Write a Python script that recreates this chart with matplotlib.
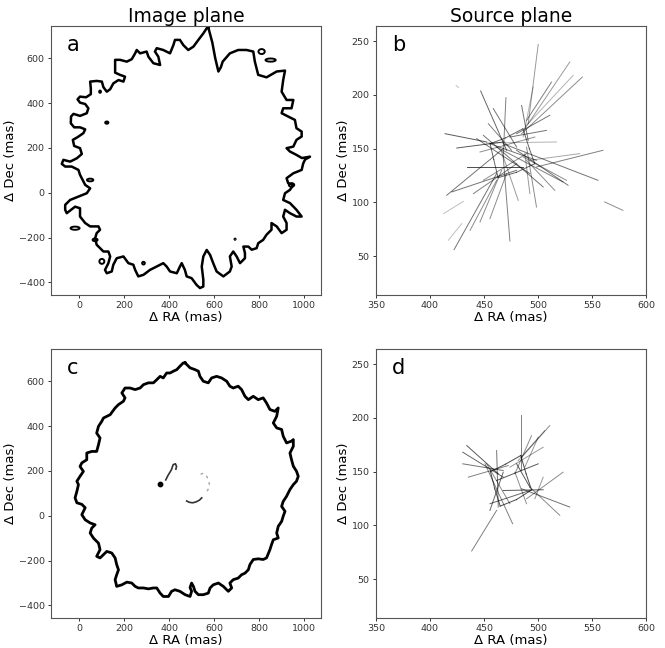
import matplotlib
matplotlib.use("Agg")
import matplotlib.pyplot as plt
from matplotlib.patches import Ellipse

# ---------------- data ----------------
ring_a_x = [574, 580, 592, 605, 619, 630, 638, 670, 707, 744, 774, 781, 796, 833, 878, 915, 907, 900, 922, 952,
            944, 907, 900, 929, 959, 966, 989, 989, 966, 952, 922, 937, 966, 990, 1026, 1004, 996, 989, 952, 922,
            929, 952, 937, 915, 907, 937, 966, 989, 966, 937, 915, 907, 922, 922, 900, 878, 855, 855, 833, 818,
            796, 789, 767, 752, 730, 737, 737, 715, 700, 685, 670, 678, 670, 641, 611, 596, 582, 567, 552, 545,
            552, 552, 537, 522, 500, 478, 470, 456, 448, 434, 404, 389, 374, 345, 315, 286, 263, 249, 241, 219,
            197, 167, 152, 145, 123, 115, 130, 138, 130, 108, 93, 78, 71, 78, 93, 86, 49, 27, 4, 4,
            -18, -55, -62, -62, -40, -3, 34, 49, 27, 4, -3, -33, -62, -77, -70, -40, -10, 12, 4, -22,
            -28, -7, 19, 27, 4, -22, -37, -36, -25, 4, 34, 41, 27, 4, -7, 4, 31, 52, 52, 49,
            78, 101, 108, 123, 138, 152, 175, 197, 204, 182, 160, 160, 160, 182, 212, 234, 249, 256, 271, 300,
            308, 330, 360, 352, 337, 345, 374, 404, 419, 426, 448, 463, 485, 508, 530, 552, 567, 574]
ring_a_y = [738, 715, 670, 600, 541, 560, 585, 622, 637, 637, 630, 585, 526, 515, 541, 545, 503, 451, 414, 414,
            377, 377, 355, 340, 325, 288, 273, 251, 236, 206, 199, 184, 169, 155, 161, 148, 131, 102, 87, 65,
            43, 35, 13, -2, -32, -46, -76, -106, -106, -91, -76, -106, -135, -165, -180, -150, -135, -165, -187, -210,
            -225, -247, -254, -240, -240, -269, -292, -314, -284, -262, -284, -329, -351, -373, -351, -314, -277, -255, -284, -329,
            -388, -418, -425, -411, -381, -373, -344, -314, -329, -359, -351, -329, -314, -329, -344, -366, -373, -344, -321, -314,
            -284, -292, -321, -351, -359, -344, -314, -284, -262, -262, -247, -232, -203, -180, -165, -150, -150, -135, -106, -69,
            -62, -91, -76, -54, -32, -17, -2, 20, 35, 80, 102, 117, 117, 129, 147, 139, 154, 173, 199, 209,
            236, 248, 266, 283, 292, 292, 310, 340, 352, 343, 355, 377, 396, 402, 417, 429, 426, 440, 466, 496,
            499, 496, 471, 451, 462, 488, 503, 496, 518, 526, 536, 578, 593, 593, 585, 596, 622, 637, 622, 630,
            607, 578, 570, 607, 630, 645, 637, 622, 659, 682, 682, 659, 637, 652, 682, 711, 734, 738]

# small closed islands of panel a: centre x, centre y, width, height
isl_a_x = [811, 851, 93, 123, 71, 101, 286, 693, 49, -18, 944]
isl_a_y = [630, 592, 451, 313, -210, -306, -314, -207, 57, -158, 35]
isl_a_w = [28, 45, 8, 14, 22, 22, 12, 5, 28, 40, 24]
isl_a_h = [22, 14, 10, 10, 12, 22, 12, 5, 12, 14, 16]

ring_c_x = [471, 493, 515, 530, 537, 552, 574, 589, 611, 633, 656, 670, 685, 707, 722, 737, 752, 774, 796, 818,
            833, 848, 870, 885, 878, 863, 878, 900, 907, 922, 944, 952, 952, 937, 944, 952, 966, 974, 966, 952,
            937, 922, 907, 900, 915, 907, 900, 885, 878, 885, 863, 855, 848, 833, 818, 796, 774, 759, 752, 737,
            722, 707, 685, 670, 678, 663, 641, 619, 596, 582, 574, 552, 530, 515, 508, 500, 493, 500, 493, 471,
            448, 426, 411, 397, 374, 360, 345, 330, 308, 286, 263, 249, 234, 212, 190, 167, 160, 167, 175, 167,
            160, 145, 123, 93, 78, 93, 86, 64, 49, 56, 71, 49, 27, 12, 27, 12, -10, -18, -10, -3,
            -10, 4, 19, 4, 12, 34, 34, 56, 78, 86, 93, 78, 86, 101, 108, 138, 160, 175, 197, 204,
            190, 204, 226, 249, 271, 286, 308, 330, 345, 360, 374, 389, 404, 419, 434, 448, 463, 471]
ring_c_y = [682, 660, 652, 645, 622, 600, 593, 615, 622, 615, 600, 578, 570, 578, 563, 533, 518, 533, 518, 526,
            503, 474, 466, 481, 444, 414, 392, 385, 355, 325, 333, 340, 310, 280, 250, 221, 199, 176, 154, 139,
            117, 87, 64, 42, 20, -2, -25, -47, -77, -99, -107, -129, -151, -188, -195, -192, -195, -218, -241, -256,
            -263, -278, -285, -300, -322, -337, -315, -300, -308, -322, -345, -352, -352, -337, -315, -300, -320, -337, -360, -352,
            -337, -330, -337, -360, -360, -345, -322, -322, -326, -322, -322, -315, -300, -296, -308, -315, -285, -263, -241, -218,
            -188, -166, -159, -188, -181, -151, -122, -100, -77, -55, -40, -32, -18, 5, 36, 51, 58, 80, 109, 139,
            154, 176, 198, 220, 236, 250, 280, 287, 287, 317, 347, 369, 399, 422, 436, 451, 481, 496, 511, 526,
            548, 570, 570, 563, 570, 585, 593, 593, 607, 622, 615, 637, 637, 645, 652, 667, 682, 682]

# inner fragments of panel c
frag1_x = [385, 395, 410, 418, 428, 433, 430]
frag1_y = [160, 180, 205, 228, 232, 220, 208]
frag2_x = [478, 490, 505, 520, 535, 545]
frag2_y = [66, 60, 58, 62, 70, 80]
frag3_x = [540, 552, 565, 575, 580, 572, 560]
frag3_y = [185, 190, 180, 160, 135, 115, 100]
dot_c_x = [360]
dot_c_y = [143]

# source-plane segments, panel b
b_x0 = [500.2, 529.4, 532.5, 541.1, 512.5, 510.9, 507.8, 446.9, 470.3, 458.6, 454.0, 484.8, 414.0, 424.8, 446.3,
        452.5, 434.0, 415.5, 420.2, 412.5, 417.0, 422.3, 437.1, 446.3, 455.5, 474.0, 481.7, 498.6, 492.5, 555.5,
        560.2, 538.6, 527.8, 515.5, 526.3, 561.7, 424.2, 498.6, 495.5, 443.2, 449.4, 461.7, 440.2, 449.4,
        455.6, 470.0, 486.0, 492.0, 497.0, 480.0, 463.0, 459.0]
b_y0 = [246.9, 230.5, 218.1, 216.6, 211.9, 181.0, 167.0, 203.6, 197.4, 187.2, 173.2, 190.2, 163.9, 150.6, 146.9,
        155.3, 133.0, 106.7, 109.8, 89.6, 64.9, 56.2, 74.1, 81.9, 85.0, 64.2, 102.0, 95.8, 108.2, 120.6,
        148.5, 145.4, 116.0, 111.3, 120.6, 100.5, 208.8, 139.2, 207.3, 159.3, 162.4, 151.5, 108.2, 120.6,
        154.6, 160.0, 168.5, 150.0, 136.0, 128.0, 123.0, 140.0]
b_x1 = [490.9, 487.8, 489.4, 484.8, 489.4, 480.2, 474.0, 470.9, 467.8, 480.2, 475.5, 490.9, 452.5, 467.8, 497.1,
        517.1, 486.3, 467.8, 480.2, 430.9, 429.4, 461.7, 461.7, 466.3, 470.9, 467.8, 466.3, 489.4, 487.8, 467.8,
        498.6, 492.5, 480.2, 489.4, 486.3, 578.6, 426.3, 455.5, 486.3, 492.5, 504.8, 523.2, 480.2, 489.4,
        470.0, 486.0, 492.0, 497.0, 480.0, 463.0, 459.0, 455.6]
b_y1 = [173.2, 168.6, 171.7, 163.9, 176.3, 163.9, 160.8, 148.5, 142.3, 151.5, 148.5, 157.7, 156.2, 156.2, 160.8,
        156.2, 133.0, 150.0, 129.9, 101.0, 80.3, 126.8, 120.6, 129.9, 126.8, 142.3, 146.9, 151.5, 145.4, 154.6,
        133.0, 139.2, 148.5, 139.2, 142.3, 92.7, 206.7, 154.6, 160.8, 126.8, 114.4, 119.0, 136.0, 145.4,
        160.0, 168.5, 150.0, 136.0, 128.0, 123.0, 140.0, 154.6]
b_alpha = [0.4, 0.4, 0.3, 0.45, 0.5, 0.55, 0.55, 0.6, 0.5, 0.55, 0.5, 0.55, 0.65, 0.65, 0.45,
           0.3, 0.7, 0.55, 0.55, 0.25, 0.25, 0.55, 0.45, 0.45, 0.45, 0.5, 0.4, 0.45, 0.4, 0.55,
           0.5, 0.35, 0.55, 0.45, 0.45, 0.45, 0.25, 0.55, 0.3, 0.55, 0.55, 0.5, 0.5, 0.45,
           0.6, 0.6, 0.6, 0.6, 0.6, 0.6, 0.6, 0.6]

# source-plane segments, panel d
d_x0 = [483.8, 510.9, 506.3, 494.0, 500.2, 504.8, 434.0, 430.3, 430.3, 435.5, 461.7, 450.9, 438.6, 455.5, 489.4,
        484.8, 492.5, 467.8, 497.1, 461.7, 480.2, 455.5, 452.5, 478.6,
        456.0, 470.0, 484.0, 489.0, 494.0, 480.0, 465.0, 460.0]
d_y0 = [203.0, 192.8, 188.2, 183.5, 182.0, 172.7, 174.3, 168.1, 157.3, 144.9, 169.6, 157.3, 76.3, 114.0, 124.8,
        134.1, 135.6, 132.5, 124.8, 141.8, 157.3, 120.2, 157.3, 149.5,
        150.0, 157.0, 165.0, 148.0, 133.0, 124.0, 118.0, 134.0]
d_x1 = [483.8, 484.8, 481.7, 478.6, 487.8, 474.0, 463.2, 467.8, 467.8, 472.5, 463.2, 476.5, 461.7, 467.8, 523.2,
        529.4, 520.2, 504.8, 504.8, 500.2, 492.5, 492.5, 474.0, 489.4,
        470.0, 484.0, 489.0, 494.0, 480.0, 465.0, 460.0, 456.0]
d_y1 = [151.1, 163.4, 160.4, 148.0, 154.2, 154.2, 148.0, 144.9, 151.1, 155.7, 117.1, 101.6, 114.0, 149.5, 149.5,
        117.1, 109.4, 133.2, 144.9, 157.3, 135.6, 132.5, 120.2, 120.2,
        157.0, 165.0, 148.0, 133.0, 124.0, 118.0, 134.0, 150.0]
d_alpha = [0.5, 0.45, 0.4, 0.45, 0.4, 0.4, 0.65, 0.6, 0.55, 0.5, 0.55, 0.5, 0.5, 0.6, 0.45,
           0.55, 0.45, 0.65, 0.4, 0.65, 0.65, 0.6, 0.45, 0.45,
           0.7, 0.7, 0.7, 0.7, 0.7, 0.7, 0.7, 0.7]

img_xticks = [0, 200, 400, 600, 800, 1000]
img_yticks = [-400, -200, 0, 200, 400, 600]
src_xticks = [350, 400, 450, 500, 550, 600]
src_yticks = [50, 100, 150, 200, 250]
img_xlim = (-125, 1075)
img_ylim = (-456, 744)
src_xlim = (350, 600)
src_ylim = (14, 264)

# ---------------- figure ----------------
W, H = 665, 648
fig = plt.figure(figsize=(W / 100, H / 100), dpi=100)

def box(l, t, r, b):
    return [l / W, 1 - b / H, (r - l) / W, (b - t) / H]

ax_a = fig.add_axes(box(51, 26, 321, 295))
ax_b = fig.add_axes(box(376, 26, 646, 295))
ax_c = fig.add_axes(box(51, 349, 321, 618))
ax_d = fig.add_axes(box(376, 349, 646, 618))

def style(ax, letter, xlim, ylim, xt, yt):
    ax.set_xlim(*xlim)
    ax.set_ylim(*ylim)
    ax.set_xticks(xt)
    ax.set_yticks(yt)
    ax.set_xlabel("Δ RA (mas)", fontsize=9.5, labelpad=0.5)
    ax.set_ylabel("Δ Dec (mas)", fontsize=9.5, labelpad=1)
    ax.tick_params(labelsize=6.8, colors="#333333", length=2.5, pad=2, width=0.7)
    ax.text(0.06, 0.93, letter, transform=ax.transAxes, fontsize=15, va="center", ha="left")
    for s in ax.spines.values():
        s.set_color("#555555")

# panel a
ax_a.plot(ring_a_x, ring_a_y, color="black", lw=1.8, solid_joinstyle="round")
for cx, cy, w, h in zip(isl_a_x, isl_a_y, isl_a_w, isl_a_h):
    ax_a.add_patch(Ellipse((cx, cy), w, h, fill=False, lw=1.4, color="black"))
style(ax_a, "a", img_xlim, img_ylim, img_xticks, img_yticks)
ax_a.set_title("Image plane", fontsize=13.5, pad=3)

# panel b
for x0, y0, x1, y1, al in zip(b_x0, b_y0, b_x1, b_y1, b_alpha):
    ax_b.plot([x0, x1], [y0, y1], color="black", lw=0.7, alpha=al)
style(ax_b, "b", src_xlim, src_ylim, src_xticks, src_yticks)
ax_b.set_title("Source plane", fontsize=13.5, pad=3)

# panel c
ax_c.plot(ring_c_x, ring_c_y, color="black", lw=2.0, solid_joinstyle="round")
ax_c.plot(frag1_x, frag1_y, color="black", lw=1.2, alpha=0.8)
ax_c.plot(frag2_x, frag2_y, color="black", lw=1.2, alpha=0.8)
ax_c.plot(frag3_x, frag3_y, color="black", lw=1.0, alpha=0.35, ls=(0, (2, 3)))
ax_c.scatter(dot_c_x, dot_c_y, s=10, color="black")
style(ax_c, "c", img_xlim, img_ylim, img_xticks, img_yticks)

# panel d
for x0, y0, x1, y1, al in zip(d_x0, d_y0, d_x1, d_y1, d_alpha):
    ax_d.plot([x0, x1], [y0, y1], color="black", lw=0.7, alpha=al)
style(ax_d, "d", src_xlim, src_ylim, src_xticks, src_yticks)

fig.savefig("out.png", dpi=100)
